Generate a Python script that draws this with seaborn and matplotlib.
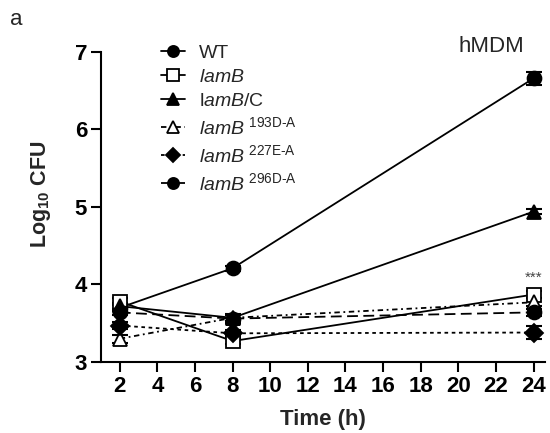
import matplotlib
matplotlib.use("Agg")
import matplotlib.pyplot as plt
import seaborn as sns
import pandas as pd
import numpy as np

sns.set_theme(style="ticks")
plt.rcParams['font.family'] = ['Liberation Sans', 'DejaVu Sans']
plt.rcParams['mathtext.fontset'] = 'custom'
plt.rcParams['mathtext.rm'] = 'Liberation Sans'
plt.rcParams['mathtext.it'] = 'Liberation Sans:italic'
plt.rcParams['mathtext.bf'] = 'Liberation Sans:bold'

time_h = [2, 8, 24]
wt = [3.70, 4.21, 6.66]
lamb = [3.78, 3.27, 3.87]
lamb_c = [3.72, 3.57, 4.94]
lamb_193 = [3.30, 3.57, 3.77]
lamb_227 = [3.47, 3.37, 3.38]
lamb_296 = [3.64, 3.56, 3.64]

wt_err = [0.04, 0.03, 0.08]
lamb_err = [0.04, 0.04, 0.05]
lamb_c_err = [0.04, 0.04, 0.03]
lamb_193_err = [0.05, 0.04, 0.05]
lamb_227_err = [0.05, 0.04, 0.08]
lamb_296_err = [0.04, 0.06, 0.05]

labels = ["WT",
          r"$\mathit{lamB}$",
          r"l$\mathit{amB}$/C",
          "$\\mathit{lamB}^{\\ \\mathrm{193D\u2010A}}$",
          "$\\mathit{lamB}^{\\ \\mathrm{227E\u2010A}}$",
          "$\\mathit{lamB}^{\\ \\mathrm{296D\u2010A}}$"]
series = [wt, lamb, lamb_c, lamb_193, lamb_227, lamb_296]
errs = [wt_err, lamb_err, lamb_c_err, lamb_193_err, lamb_227_err, lamb_296_err]
markers = ['o', 's', '^', '^', 'D', 'o']
fills = ['black', 'white', 'black', 'white', 'black', 'black']
sizes = [10, 10, 10, 10, 9, 10]
dashes = [(None), (None), (None), (3, 2, 1, 2), (2, 2), (6, 3)]

fig = plt.figure(figsize=(5.5, 4.33), dpi=100)
ax = fig.add_axes([0.1836, 0.164, 0.807, 0.716])

handles = []
for lab, y, e, m, fc, ms, ds in zip(labels, series, errs, markers, fills, sizes, dashes):
    df = pd.DataFrame({"Time": time_h, "CFU": y})
    ax.errorbar(time_h, y, yerr=e, fmt='none', ecolor='black', elinewidth=1.5,
                capsize=6, capthick=1.5, zorder=2)
    sns.lineplot(data=df, x="Time", y="CFU", ax=ax, color='black', linewidth=1.3,
                 marker=m, markersize=ms, markerfacecolor=fc, markeredgecolor='black',
                 markeredgewidth=1.3, label=lab, zorder=3)
    line = ax.get_lines()[-1]
    if ds is not None:
        line.set_dashes(ds)
    handles.append(line)

ax.set_xlim(1.0, 24.6)
ax.set_ylim(3, 7)
ax.set_xticks(np.arange(2, 25, 2))
ax.set_yticks([3, 4, 5, 6, 7])
for s in ['top', 'right']:
    ax.spines[s].set_visible(False)
for s in ['left', 'bottom']:
    ax.spines[s].set_linewidth(1.5)
    ax.spines[s].set_color('black')
ax.tick_params(axis='both', direction='out', length=7, width=1.5, colors='black',
               labelsize=16, pad=3)
for t in ax.get_xticklabels() + ax.get_yticklabels():
    t.set_fontweight('bold')
ax.set_xlabel("Time (h)", fontsize=16, fontweight='bold', labelpad=9)
ax.set_ylabel(r"Log$_{\mathbf{10}}$ CFU", fontsize=15.5, fontweight='bold')
ax.yaxis.set_label_coords(-0.108, 0.54)

leg = ax.legend(handles=handles, labels=labels, loc='upper left',
                bbox_to_anchor=(0.095, 1.08), frameon=False, fontsize=14,
                handlelength=1.25, handletextpad=0.7, labelspacing=0.32,
                markerscale=0.8)

ax.text(0.88, 1.05, "hMDM", transform=ax.transAxes, fontsize=16, ha='center', va='top')
ax.text(24, 4.0, "***", fontsize=11, color='#444444', ha='center', va='bottom')
fig.text(0.018, 0.98, "a", fontsize=16, va='top')

fig.savefig("out.png", dpi=100)
